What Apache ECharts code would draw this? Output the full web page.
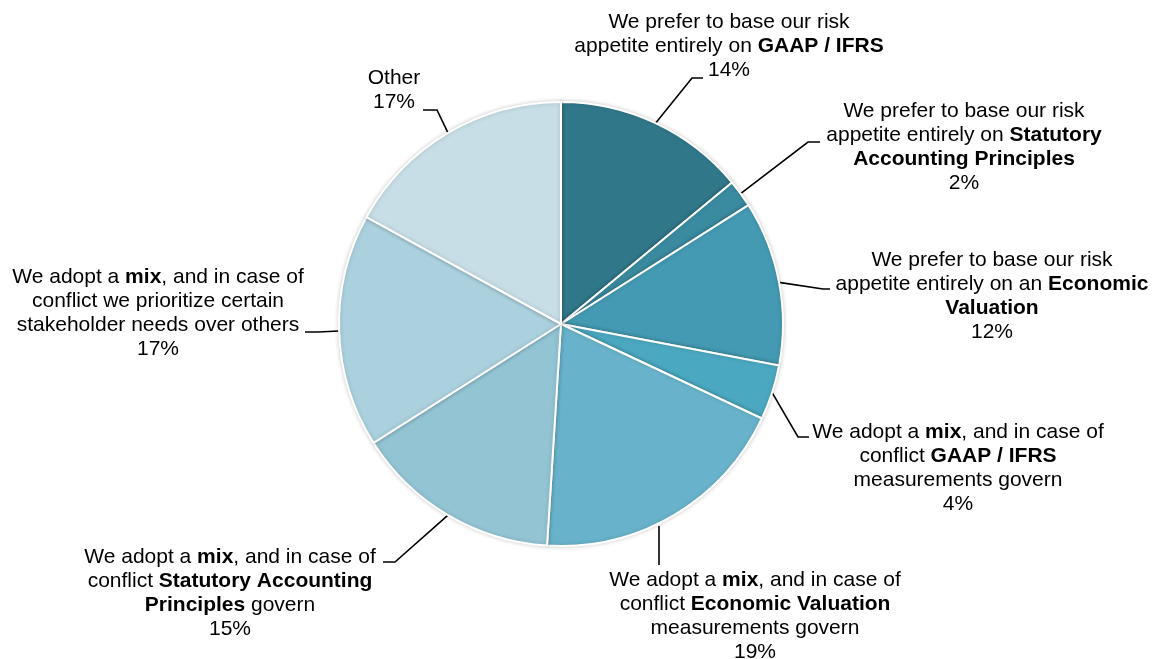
<!DOCTYPE html>
<html>
<head>
<meta charset="utf-8">
<script src="https://cdn.jsdelivr.net/npm/echarts@6/dist/echarts.min.js"></script>
<style>
  html, body { margin: 0; padding: 0; background: #fff; }
  #chart { width: 1161px; height: 659px; }
</style>
</head>
<body>
<div id="chart"></div>
<script>
// slice names: "\n" breaks a line, **...** marks the bold words
const categories = [
  "We prefer to base our risk\nappetite entirely on **GAAP / IFRS**",
  "We prefer to base our risk\nappetite entirely on **Statutory**\n**Accounting Principles**",
  "We prefer to base our risk\nappetite entirely on an **Economic**\n**Valuation**",
  "We adopt a **mix**, and in case of\nconflict **GAAP / IFRS**\nmeasurements govern",
  "We adopt a **mix**, and in case of\nconflict **Economic Valuation**\nmeasurements govern",
  "We adopt a **mix**, and in case of\nconflict **Statutory Accounting**\n**Principles** govern",
  "We adopt a **mix**, and in case of\nconflict we prioritize certain\nstakeholder needs over others",
  "Other"
];
const shares = [14, 2, 12, 4, 19, 15, 17, 17]; // percent

const sliceColors = ["#31778a", "#3a8ba0", "#439ab2", "#4aa8c0", "#68b3cb", "#93c4d4", "#abd0de", "#c7dee6"];

// label block centre + leader line bend/end (from = override of the start on the rim)
const labelSpots = [
  { x: 729, y: 46, bend: [692, 78], end: [703, 78] },
  { x: 964, y: 147, bend: [808, 142], end: [820, 142] },
  { x: 992, y: 296, bend: [823, 289], end: [830, 289] },
  { x: 958, y: 468, bend: [798, 437], end: [809, 437] },
  { x: 755, y: 616, from: [659, 526], bend: [659, 546], end: [659, 565] },
  { x: 230, y: 593, bend: [395, 562], end: [383, 562] },
  { x: 158, y: 313, bend: [318, 332], end: [305, 332] },
  { x: 394, y: 90, bend: [437, 110], end: [423, 110] }
];

const FONT = '"Liberation Sans", Arial, sans-serif';

function toRich(name) {
  return name.split("\n").map(function (line) {
    return line.split("**").map(function (part, i) {
      if (!part) return "";
      return (i % 2 ? "{b|" : "{n|") + part + "}";
    }).join("");
  }).join("\n");
}

const chart = echarts.init(document.getElementById("chart"));

chart.setOption({
  animation: false,
  backgroundColor: "#fff",
  series: [
    {
      type: "pie",
      center: [561, 324],
      radius: 222,
      startAngle: 90,
      clockwise: true,
      silent: true,
      avoidLabelOverlap: false,
      data: categories.map(function (name, i) {
        return { name: name, value: shares[i], itemStyle: { color: sliceColors[i] } };
      }),
      itemStyle: {
        borderColor: "#fff",
        borderWidth: 2,
        shadowBlur: 4,
        shadowColor: "rgba(0,0,0,0.18)"
      },
      label: {
        show: true,
        position: "outside",
        width: 380,
        overflow: "none",
        formatter: function (p) {
          return toRich(p.name) + "\n{n|" + p.value + "%}";
        },
        rich: {
          n: { fontFamily: FONT, fontSize: 21, lineHeight: 24, color: "#000", align: "center" },
          b: { fontFamily: FONT, fontSize: 21, lineHeight: 24, color: "#000", fontWeight: "bold", align: "center" }
        }
      },
      labelLine: {
        show: true,
        smooth: false,
        lineStyle: { color: "#000", width: 1.6 }
      },
      labelLayout: function (params) {
        const s = labelSpots[params.dataIndex];
        const start = s.from || (params.labelLinePoints && params.labelLinePoints[0]) || s.bend;
        return {
          x: s.x,
          y: s.y,
          align: "center",
          verticalAlign: "middle",
          labelLinePoints: [start, s.bend, s.end]
        };
      }
    }
  ]
});
</script>
</body>
</html>
